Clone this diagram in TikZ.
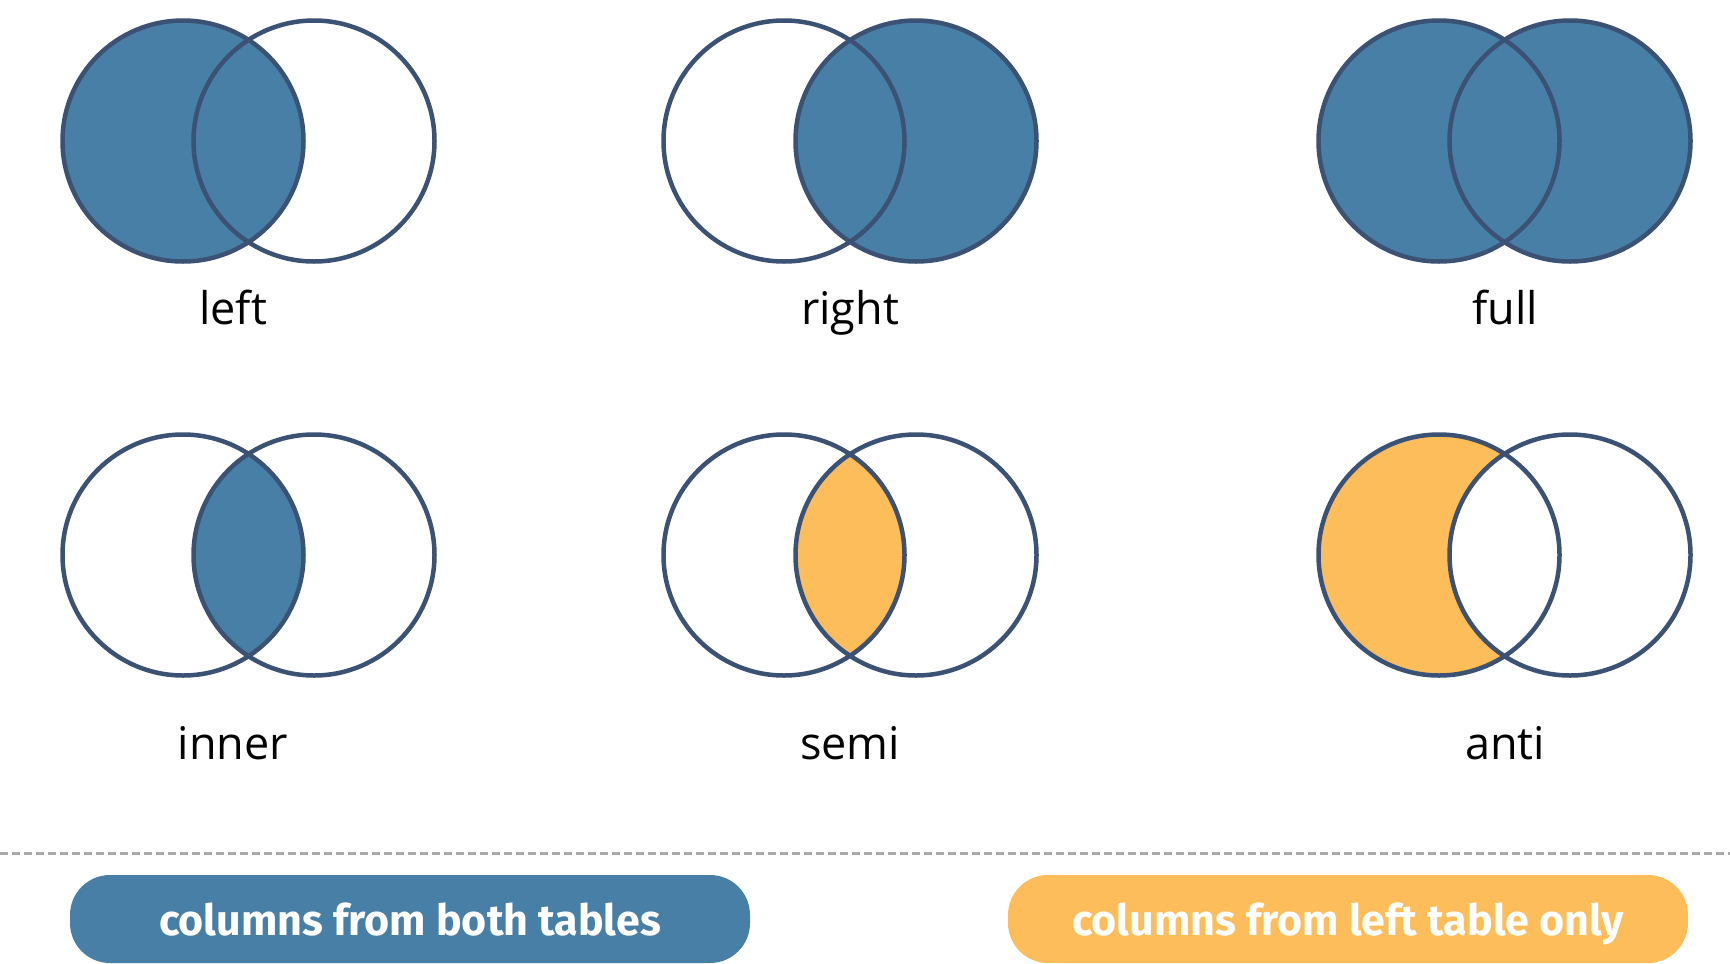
\documentclass[tikz,border=0pt]{standalone}
\usepackage{fontspec}
\setmainfont{Open Sans}
\newfontfamily\pillfont[Ligatures=CommonOff]{Fira Sans}
\usetikzlibrary{positioning}

\definecolor{ringcol}{HTML}{3C5274}
\definecolor{joinblue}{HTML}{487FA6}
\definecolor{joinorange}{HTML}{FDBD5A}
\definecolor{sepgray}{HTML}{AAAAAA}

\tikzset{
  ring/.style = {draw=ringcol, line width=4.5pt},
  lbl/.style = {anchor=base, inner sep=0pt, font=\fontsize{45}{54}\selectfont},
  pill/.style = {rounded corners=40pt, minimum width=680pt, minimum height=88pt,
                 text height=33pt, text depth=0pt, inner sep=0pt, text=white,
                 font=\pillfont\bfseries\fontsize{43}{52}\selectfont},
}
\newcommand{\vr}{120.5}

\begin{document}
\begin{tikzpicture}[x=1pt, y=-1pt]
\useasboundingbox (0,0) rectangle (1730,964);
% circle centres
\coordinate (leftA) at (183,141);   \coordinate (leftB) at (314,141);
\coordinate (rightA) at (784,141);  \coordinate (rightB) at (916,141);
\coordinate (fullA) at (1439,141);  \coordinate (fullB) at (1570,141);
\coordinate (innerA) at (183,555);  \coordinate (innerB) at (314,555);
\coordinate (semiA) at (784,555);   \coordinate (semiB) at (916,555);
\coordinate (antiA) at (1439,555);  \coordinate (antiB) at (1570,555);

% fills
\fill[joinblue] (leftA) circle[radius=\vr];
\fill[joinblue] (rightB) circle[radius=\vr];
\fill[joinblue] (fullA) circle[radius=\vr] (fullB) circle[radius=\vr];
\begin{scope}
  \clip (innerA) circle[radius=\vr];
  \fill[joinblue] (innerB) circle[radius=\vr];
\end{scope}
\begin{scope}
  \clip (semiA) circle[radius=\vr];
  \fill[joinorange] (semiB) circle[radius=\vr];
\end{scope}
\fill[joinorange] (antiA) circle[radius=\vr];
\fill[white] (antiB) circle[radius=\vr];

% outlines
\draw[ring] (leftA) circle[radius=\vr] (leftB) circle[radius=\vr];
\draw[ring] (rightA) circle[radius=\vr] (rightB) circle[radius=\vr];
\draw[ring] (fullA) circle[radius=\vr] (fullB) circle[radius=\vr];
\draw[ring] (innerA) circle[radius=\vr] (innerB) circle[radius=\vr];
\draw[ring] (semiA) circle[radius=\vr] (semiB) circle[radius=\vr];
\draw[ring] (antiA) circle[radius=\vr] (antiB) circle[radius=\vr];

% labels
\node[lbl] (lblLeft) at (233,324) {left};
\node[lbl] (lblRight) at (850,324) {right};
\node[lbl] (lblFull) at (1505,324) {full};
\node[lbl] (lblInner) at (233,759) {inner};
\node[lbl] (lblSemi) at (850,759) {semi};
\node[lbl] (lblAnti) at (1505,759) {anti};

% separator and legend
\coordinate (sepL) at (0,853);
\coordinate (sepR) at (1730,853);
\draw[sepgray, line width=3pt, dash pattern=on 8pt off 4pt] (sepL) -- (sepR);
\node[pill, fill=joinblue] (pillBoth) at (410,919) {columns from both tables};
\node[pill, fill=joinorange] (pillLeft) at (1348,919) {columns from left table only};
\end{tikzpicture}
\end{document}
